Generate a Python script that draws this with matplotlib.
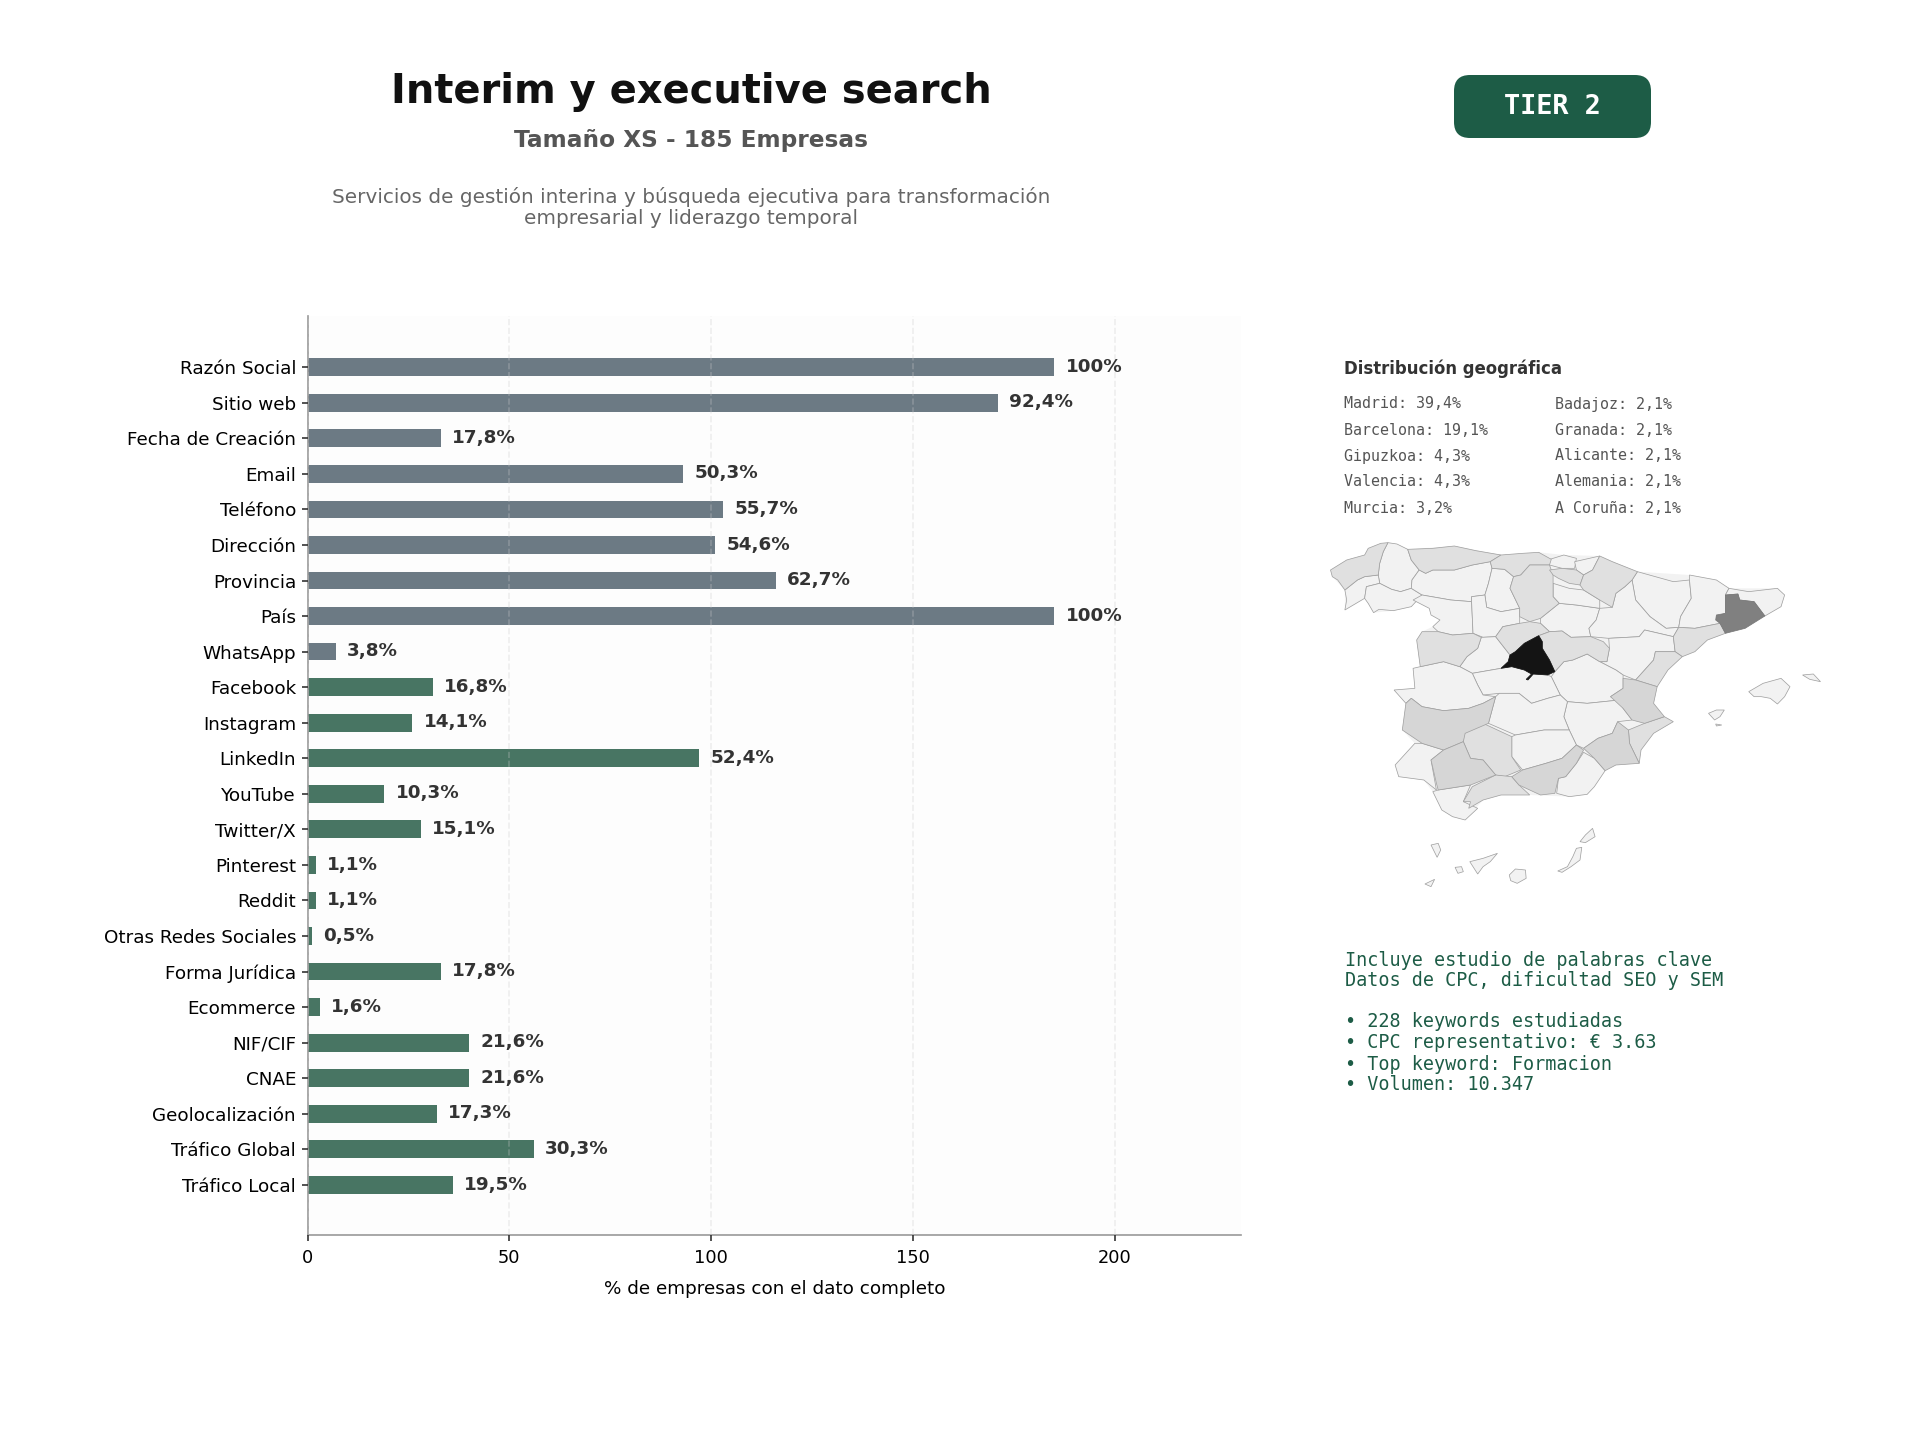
import matplotlib
matplotlib.use("Agg")
import matplotlib.pyplot as plt
from matplotlib.patches import FancyBboxPatch, Polygon

categories = ["Razón Social", "Sitio web", "Fecha de Creación", "Email", "Teléfono", "Dirección",
              "Provincia", "País", "WhatsApp", "Facebook", "Instagram", "LinkedIn", "YouTube",
              "Twitter/X", "Pinterest", "Reddit", "Otras Redes Sociales", "Forma Jurídica",
              "Ecommerce", "NIF/CIF", "CNAE", "Geolocalización", "Tráfico Global", "Tráfico Local"]
counts = [185, 171, 33, 93, 103, 101, 116, 185, 7, 31, 26, 97, 19, 28, 2, 2, 1, 33, 3, 40, 40, 32, 56, 36]
value_labels = ["100%", "92,4%", "17,8%", "50,3%", "55,7%", "54,6%", "62,7%", "100%", "3,8%", "16,8%",
                "14,1%", "52,4%", "10,3%", "15,1%", "1,1%", "1,1%", "0,5%", "17,8%", "1,6%", "21,6%",
                "21,6%", "17,3%", "30,3%", "19,5%"]
n_gray = 9

geo_left = ["Madrid: 39,4%", "Barcelona: 19,1%", "Gipuzkoa: 4,3%", "Valencia: 4,3%", "Murcia: 3,2%"]
geo_right = ["Badajoz: 2,1%", "Granada: 2,1%", "Alicante: 2,1%", "Alemania: 2,1%", "A Coruña: 2,1%"]
keyword_lines = ["Incluye estudio de palabras clave", "Datos de CPC, dificultad SEO y SEM", "",
                 "• 228 keywords estudiadas", "• CPC representativo: € 3.63",
                 "• Top keyword: Formacion", "• Volumen: 10.347"]

# province outlines, grouped by shade
map_land = [(85,150),(130,120),(180,105),(190,85),(245,68),(300,88),(430,78),(560,105),(665,97),(735,105),(835,108),(940,155),(1085,165),(1195,205),(1330,205),(1350,225),(1340,260),(1295,288),(1185,340),(1135,360),(1100,395),(1065,410),(1025,450),(995,500),(985,550),(1015,590),(1040,605),(985,640),(950,690),(945,730),(880,735),(850,752),(800,823),(750,830),(640,825),(560,825),(510,840),(460,900),(425,890),(395,870),(370,815),(345,780),(275,770),(265,735),(320,670),(285,630),(295,550),(262,510),(320,505),(315,445),(335,440),(325,360),(340,335),(370,320),(390,300),(365,285),(360,265),(315,240),(310,260),(260,272),(205,278),(180,235),(125,270),(125,210),(90,170)]
map_light = [
    [(245,68),(270,72),(300,88),(310,120),(332,150),(312,180),(310,205),(280,215),(255,208),(222,190),(218,165),(222,130),(232,95)],
    [(125,210),(160,180),(180,170),(218,165),(222,190),(185,200),(180,235),(125,270),(130,240)],
    [(185,200),(222,190),(255,208),(280,215),(310,205),(340,225),(310,260),(260,272),(220,268),(205,278),(190,250),(180,235)],
    [(332,150),(350,160),(370,150),(430,150),(480,135),(530,125),(535,145),(525,190),(515,225),(478,230),(478,245),(420,240),(340,225),(310,205),(312,180)],
    [(535,145),(570,148),(595,170),(585,205),(612,265),(560,275),(520,262),(515,225),(525,190)],
    [(315,240),(340,225),(420,240),(478,245),(482,340),(425,345),(385,335),(370,320),(390,300),(365,285),(360,265)],
    [(478,245),(478,230),(515,225),(520,262),(560,275),(612,265),(612,310),(565,320),(545,350),(510,352),(482,340)],
    [(505,352),(545,350),(585,405),(580,425),(560,445),(480,460),(445,440),(465,410),(495,385)],
    [(670,295),(722,250),(770,255),(835,265),(825,300),(805,325),(810,350),(755,352),(730,333),(695,335),(670,310)],
    [(705,190),(750,205),(790,210),(835,240),(835,265),(770,255),(722,250),(705,230)],
    [(690,120),(735,105),(770,115),(765,145),(730,145),(695,135)],
    [(765,125),(835,108),(815,150),(790,165),(770,150)],
    [(940,155),(990,170),(1040,185),(1085,180),(1090,235),(1060,290),(1055,322),(1020,325),(975,290),(935,240),(925,180)],
    [(925,180),(935,240),(975,290),(1020,325),(1055,322),(1040,350),(960,330),(945,350),(860,355),(810,350),(805,325),(825,300),(835,265),(870,262),(880,220),(905,200)],
    [(860,355),(945,350),(960,330),(1040,350),(1045,395),(990,395),(985,420),(935,480),(900,465),(880,450),(835,425),(855,425),(862,385)],
    [(1085,165),(1160,180),(1195,205),(1185,225),(1185,280),(1160,290),(1170,310),(1100,325),(1055,322),(1060,290),(1090,235),(1085,180)],
    [(1195,205),(1250,215),(1330,205),(1350,225),(1340,260),(1295,288),(1265,245),(1225,240),(1220,222),(1185,225)],
    [(735,425),(760,420),(800,402),(835,425),(880,450),(900,465),(900,505),(865,530),(890,540),(800,550),(745,545),(725,525),(700,470),(710,455)],
    [(745,545),(800,550),(890,540),(900,565),(925,600),(885,605),(870,640),(830,655),(790,685),(770,675),(750,630),(735,590)],
    [(480,460),(560,445),(590,440),(625,450),(645,462),(690,465),(700,470),(725,525),(690,535),(645,550),(610,520),(555,520),(510,525),(495,495)],
    [(545,530),(555,520),(610,520),(645,550),(690,535),(725,525),(745,545),(735,590),(750,630),(680,630),(600,645),(525,610)],
    [(315,445),(335,440),(400,425),(445,440),(480,460),(495,495),(510,525),(545,530),(510,550),(470,565),(400,572),(340,560),(310,535),(295,550),(262,510),(320,505)],
    [(320,670),(340,670),(400,690),(365,720),(380,810),(345,780),(275,770),(265,735)],
    [(590,650),(600,645),(680,630),(750,630),(770,675),(730,715),(685,730),(620,750),(590,710)],
    [(790,697),(820,715),(850,752),(820,800),(800,823),(750,830),(715,820),(720,775),(740,770),(770,730)],
    [(370,815),(385,810),(475,795),(455,845),(495,865),(460,900),(425,890),(395,870)],
    [(1250,515),(1290,490),(1340,475),(1365,500),(1350,530),(1330,552),(1310,535),(1285,530),(1265,530)],
    [(1400,465),(1430,462),(1450,485),(1420,478)],
    [(1138,580),(1160,570),(1182,570),(1170,590),(1155,600)],
    [(1158,612),(1175,615),(1160,618)],
    [(780,965),(795,945),(815,925),(822,950),(795,968)],
    [(718,1053),(745,1040),(760,1010),(770,985),(785,982),(780,1020),(755,1040),(730,1057)],
    [(583,1065),(600,1047),(628,1050),(630,1075),(605,1090),(587,1082)],
    [(473,1025),(510,1015),(550,1000),(530,1025),(510,1040),(495,1062)],
    [(432,1042),(450,1040),(455,1055),(440,1060)],
    [(365,975),(385,970),(392,990),(382,1012)],
    [(348,1092),(375,1078),(365,1100)],
]
map_mid = [
    [(85,150),(130,120),(180,105),(190,85),(225,70),(245,68),(232,95),(222,130),(218,165),(180,170),(160,180),(125,210),(105,180),(90,170)],
    [(300,88),(370,85),(430,78),(490,92),(560,105),(530,125),(480,135),(430,150),(370,150),(350,160),(332,150),(310,120)],
    [(560,105),(620,100),(665,97),(700,118),(695,135),(640,135),(615,165),(595,170),(570,148),(535,145),(530,125)],
    [(595,170),(615,165),(640,135),(695,135),(705,165),(705,230),(722,250),(670,295),(640,305),(612,290),(612,265),(585,205)],
    [(340,335),(385,335),(425,345),(482,340),(505,352),(495,385),(465,410),(445,440),(400,425),(335,440),(325,360)],
    [(545,350),(565,320),(612,310),(640,305),(670,310),(695,335),(665,347),(625,370),(600,395),(585,405)],
    [(695,335),(730,333),(755,352),(810,350),(845,365),(862,385),(855,425),(835,425),(800,402),(760,420),(735,425),(710,455),(695,420),(675,385),(675,365),(665,347)],
    [(695,150),(730,145),(770,150),(790,165),(780,195),(750,190),(720,175),(705,165)],
    [(835,108),(870,125),(940,155),(925,180),(905,200),(880,220),(870,262),(835,240),(790,210),(780,195),(790,165),(815,150)],
    [(1170,310),(1185,340),(1135,360),(1100,395),(1065,410),(1045,395),(1040,350),(1055,322),(1100,325)],
    [(990,395),(1045,395),(1065,410),(1025,450),(995,500),(935,480),(985,420)],
    [(960,610),(1015,590),(1040,605),(985,640),(950,690),(945,730),(918,670),(915,630)],
    [(455,640),(510,610),(590,650),(590,710),(615,750),(570,770),(545,765),(510,720),(475,715),(455,665)],
    [(480,800),(545,765),(590,770),(610,795),(640,825),(560,825),(510,840),(470,865),(475,845),(455,845)],
]
map_dark = [
    [(900,475),(935,480),(995,500),(985,550),(1015,590),(960,610),(925,600),(900,565),(865,530),(900,505)],
    [(870,640),(885,605),(915,630),(918,670),(945,730),(880,735),(850,752),(820,715),(790,685),(830,655)],
    [(295,550),(310,535),(340,560),(400,572),(470,565),(510,550),(545,530),(525,610),(460,640),(455,665),(400,690),(340,670),(285,630)],
    [(365,720),(400,690),(455,665),(475,715),(510,720),(545,765),(475,795),(385,810),(380,790)],
    [(590,770),(620,750),(685,730),(730,715),(770,675),(790,690),(770,730),(740,770),(720,775),(710,820),(670,825),(610,795)],
]
map_barcelona = [(1185,225),(1220,222),(1225,240),(1265,245),(1295,288),(1240,325),(1185,340),(1170,310),(1158,300),(1160,285),(1185,280)]
map_madrid = [(665,347),(675,365),(675,385),(695,420),(710,455),(690,465),(650,462),(635,480),(630,478),(645,462),(625,450),(590,440),(560,445),(580,425),(585,405),(600,395),(625,370)]

W, H = 1920, 1440
GRAY = "#6c7a84"
GREEN = "#487563"
DARK_GREEN = "#1d5c46"


def fx(x):
    return x / W


def fy(y):
    return 1 - y / H


fig = plt.figure(figsize=(12.8, 9.6), dpi=150, facecolor="white")

# header
fig.text(fx(691), fy(91.5), "Interim y executive search", fontsize=19.2, fontweight="bold",
         color="#111111", ha="center", va="center")
fig.text(fx(691), fy(141), "Tamaño XS - 185 Empresas", fontsize=11.2, fontweight="bold",
         color="#555555", ha="center", va="center")
fig.text(fx(691), fy(197), "Servicios de gestión interina y búsqueda ejecutiva para transformación",
         fontsize=9.6, color="#666666", ha="center", va="center")
fig.text(fx(691), fy(219), "empresarial y liderazgo temporal",
         fontsize=9.6, color="#666666", ha="center", va="center")

# badge
badge = FancyBboxPatch((1468, 89), 169, 35, boxstyle="round,pad=14,rounding_size=16",
                       transform=None, facecolor=DARK_GREEN, edgecolor="none")
badge.set_transform(matplotlib.transforms.Affine2D().scale(1, -1).translate(0, H))
fig.add_artist(badge)
fig.text(fx(1552.5), fy(106.5), "TIER 2", fontsize=12.9, fontweight="bold", family="DejaVu Sans Mono",
         color="white", ha="center", va="center")

# bars
ax = fig.add_axes([307.5 / W, 1 - 1235 / H, (1241 - 307.5) / W, (1235 - 316) / H], facecolor="#fdfdfd")
y = list(range(len(categories)))
colors = [GRAY if i < n_gray else GREEN for i in y]
ax.barh(y, counts, height=0.5, color=colors, zorder=2)
for i, (c, lab) in enumerate(zip(counts, value_labels)):
    ax.text(c + 2.8, i - 0.01, lab, fontsize=8.8, fontweight="bold", color="#333333", va="center", ha="left", zorder=4)
ax.set_yticks(y)
ax.set_yticklabels(categories, fontsize=8.8)
ax.set_ylim(len(categories) - 1 + 1.41, -1.44)
ax.set_xlim(0, 231.25)
ax.set_xticks([0, 50, 100, 150, 200])
ax.tick_params(axis="x", labelsize=8.5, color="#333333", length=3, width=0.8)
ax.tick_params(axis="y", color="#333333", length=3, width=0.8, pad=2.5)
ax.set_xlabel("% de empresas con el dato completo", fontsize=8.8, labelpad=6.5)
ax.grid(axis="x", linestyle="--", color="#cccccc", alpha=0.3, linewidth=0.8, zorder=3)
ax.set_axisbelow(False)
for s in ["top", "right"]:
    ax.spines[s].set_visible(False)
for s in ["left", "bottom"]:
    ax.spines[s].set_color("#999999")

# geographic block
fig.text(fx(1344.5), fy(368.5), "Distribución geográfica", fontsize=7.95, fontweight="bold",
         color="#333333", ha="left", va="center")
geo_rows = [404, 430, 456, 482, 508]
for r, l, rr in zip(geo_rows, geo_left, geo_right):
    fig.text(fx(1344), fy(r), l, fontsize=7.2, family="DejaVu Sans Mono", color="#555555", ha="left", va="center")
    fig.text(fx(1555), fy(r), rr, fontsize=7.2, family="DejaVu Sans Mono", color="#555555", ha="left", va="center")

# map
map_ax = fig.add_axes([1300 / W, 1 - 910 / H, 560 / W, 390 / H])
map_ax.set_xlim(0, 1560)
map_ax.set_ylim(1170, 0)
map_ax.axis("off")
edge = "#a0a0a0"
map_ax.add_patch(Polygon(map_land, closed=True, facecolor="#f2f2f2", edgecolor="none"))
for poly in map_light:
    map_ax.add_patch(Polygon(poly, closed=True, facecolor="#f2f2f2", edgecolor=edge, linewidth=0.35))
for poly in map_mid:
    map_ax.add_patch(Polygon(poly, closed=True, facecolor="#e0e0e0", edgecolor=edge, linewidth=0.35))
for poly in map_dark:
    map_ax.add_patch(Polygon(poly, closed=True, facecolor="#d6d6d6", edgecolor=edge, linewidth=0.35))
map_ax.add_patch(Polygon(map_barcelona, closed=True, facecolor="#808080", edgecolor="#777777", linewidth=0.35))
map_ax.add_patch(Polygon(map_madrid, closed=True, facecolor="#141414", edgecolor="#141414", linewidth=0.35))

# keyword block
kw_rows = [960, 981, 1001, 1021.5, 1042.5, 1064, 1085]
for r, line in zip(kw_rows, keyword_lines):
    fig.text(fx(1345), fy(r), line, fontsize=8.9, family="DejaVu Sans Mono", color=DARK_GREEN, ha="left", va="center")

fig.savefig("out.png", dpi=150, facecolor="white")
